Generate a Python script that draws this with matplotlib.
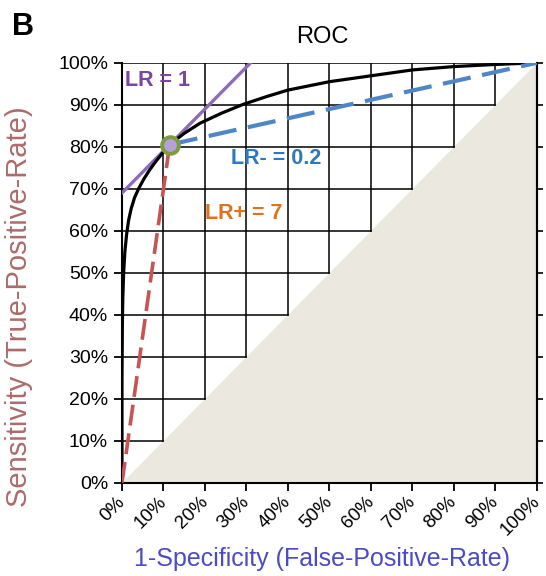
import numpy as np
import matplotlib.pyplot as plt

plt.rcParams['font.family'] = ['Liberation Sans', 'DejaVu Sans']

# ROC curve (false-positive-rate, true-positive-rate)
fpr = [0.0, 0.0, 0.001, 0.002, 0.004, 0.007, 0.011, 0.016, 0.022, 0.03,
       0.04, 0.052, 0.066, 0.08, 0.096, 0.115, 0.15, 0.188, 0.24, 0.292,
       0.35, 0.4, 0.5, 0.6, 0.7, 0.8, 0.9, 1.0]
tpr = [0.0, 0.25, 0.38, 0.44, 0.5, 0.55, 0.59, 0.625, 0.652, 0.678,
       0.7, 0.722, 0.744, 0.763, 0.783, 0.805, 0.832, 0.856, 0.88, 0.901,
       0.92, 0.935, 0.955, 0.969, 0.983, 0.991, 0.996, 1.0]

# operating point and the likelihood-ratio lines
op_x, op_y = 0.115, 0.805
ticks = [0.0, 0.1, 0.2, 0.3, 0.4, 0.5, 0.6, 0.7, 0.8, 0.9, 1.0]
tick_labels = ['0%', '10%', '20%', '30%', '40%', '50%', '60%', '70%', '80%', '90%', '100%']

fig = plt.figure(figsize=(5.46, 5.76), dpi=100)
ax = fig.add_axes([0.2234, 0.162, 0.76, 0.729])

# beige area below the diagonal
ax.fill([0, 1, 1], [0, 0, 1], color='#ebe9df', lw=0, zorder=0)

# staircase grid, only above the diagonal
for k in ticks:
    ax.plot([0, k], [k, k], color='black', lw=1.1, zorder=1)
    ax.plot([k, k], [k, 1], color='black', lw=1.1, zorder=1)

# LR = 1 line (slope 1 through the operating point)
lr1_x = np.array([0.0, 1.0 - (op_y - op_x)])
ax.plot(lr1_x, lr1_x + (op_y - op_x), color='#8e6bb8', lw=2.4, zorder=3)

# ROC curve
ax.plot(fpr, tpr, color='black', lw=2.3, zorder=4)

# LR+ (from origin) and LR- (to top right)
ax.plot([0, op_x], [0, op_y], color='#c85353', lw=2.6, zorder=5,
        dashes=(5.8, 2.2))
ax.plot([op_x, 1], [op_y, 1], color='#4f86c6', lw=3.0, zorder=5,
        dashes=(6.8, 2.8))

ax.plot([op_x], [op_y], marker='o', ms=12, mfc='#b7a0d8', mec='#7f9c3c',
        mew=2.8, zorder=6, clip_on=False)

ax.text(0.008, 0.958, 'LR = 1', color='#7a44a8', fontsize=15.5, fontweight='bold',
        va='center', ha='left', zorder=7)
ax.text(0.262, 0.773, 'LR- = 0.2', color='#2a79c2', fontsize=15.5, fontweight='bold',
        va='center', ha='left', zorder=7)
ax.text(0.2, 0.64, 'LR+ = 7', color='#e0721e', fontsize=15.5, fontweight='bold',
        va='center', ha='left', zorder=7)

ax.set_xlim(0, 1)
ax.set_ylim(0, 1)
ax.set_xticks(ticks)
ax.set_xticklabels(tick_labels, rotation=45, ha='right', va='center',
                   rotation_mode='anchor', fontsize=13.5)
ax.set_yticks(ticks)
ax.set_yticklabels(tick_labels, fontsize=14)
ax.tick_params(axis='both', direction='out', length=6, width=1.3, colors='black')
ax.tick_params(axis='x', pad=6)
ax.tick_params(axis='y', pad=4)
for side in ['left', 'bottom', 'right', 'top']:
    ax.spines[side].set_linewidth(1.5)
ax.spines['top'].set_visible(False)

# short ticks on the right edge
sec = ax.secondary_yaxis('right')
sec.set_yticks(ticks)
sec.tick_params(length=4, width=1.2, labelright=False)
sec.spines['right'].set_linewidth(1.5)

ax.set_xlabel('1-Specificity (False-Positive-Rate)', fontsize=18,
              color='#4b4bc4')
ax.xaxis.set_label_coords(0.482, -0.152)
ax.xaxis.label.set_va('top')
ax.set_ylabel('Sensitivity (True-Positive-Rate)', fontsize=21,
              color='#ad6b6b')
ax.yaxis.set_label_coords(-0.215, 0.418)
ax.set_title('ROC', fontsize=17, x=0.482, pad=14)

fig.text(0.022, 1 - 35 / 576, 'B', fontsize=22, fontweight='bold',
         ha='left', va='baseline')

fig.savefig('out.png', dpi=100)
